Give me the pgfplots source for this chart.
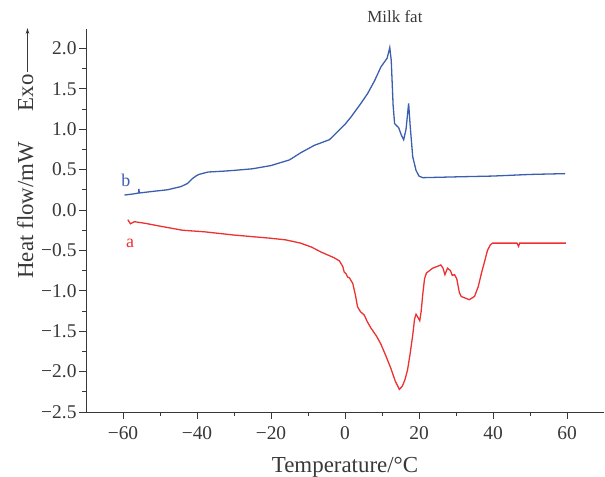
\documentclass[border=0pt]{standalone}
\usepackage{fontspec}
\setmainfont{Liberation Serif}
\usepackage{pgfplots}
\pgfplotsset{compat=1.18}
\usetikzlibrary{arrows.meta}
\definecolor{cb}{rgb}{0.23,0.37,0.68}
\definecolor{cr}{rgb}{0.93,0.19,0.19}
\definecolor{ax}{rgb}{0.22,0.22,0.22}
\begin{document}
\begin{tikzpicture}
\useasboundingbox (0,0) rectangle (605bp,477bp);
\begin{axis}[at={(86bp,65bp)}, anchor=south west, scale only axis,
  width=518bp, height=383bp,
  xmin=-70, xmax=70, ymin=-2.5, ymax=2.24,
  axis x line*=bottom, axis y line*=left,
  axis line style={ax, line width=0.8pt},
  tick style={ax, line width=0.8pt},
  tick align=outside,
  major tick length=7bp, minor tick length=4bp,
  xtick={-60,-40,-20,0,20,40,60},
  xticklabels={−60,−40,−20,0,20,40,60},
  ytick={-2.5,-2,-1.5,-1,-0.5,0,0.5,1,1.5,2},
  yticklabels={−2.5,−2.0,−1.5,−1.0,−0.5,0.0,0.5,1.0,1.5,2.0},
  minor x tick num=1, minor y tick num=1,
  ticklabel style={font=\fontsize{19.5}{19.5}\selectfont, text=ax},
  xticklabel style={yshift=-4bp},
  yticklabel style={xshift=1bp},
  xlabel={Temperature/°C},
  xlabel style={font=\fontsize{23}{23}\selectfont, text=ax, at={(axis description cs:0.5,0)}, anchor=base, yshift=-60bp},
  ylabel={Heat flow/mW},
  ylabel style={font=\fontsize{23}{23}\selectfont, text=ax, at={(axis description cs:-0.1023,0.527)}, anchor=base},
  clip=false,
]
\addplot[cb, line width=1.3pt] coordinates {
(-59.6,0.185) (-57,0.20) (-55.8,0.21) (-55.7,0.26) (-55.6,0.21) (-52,0.23) (-48,0.25)
(-44.3,0.29) (-42.5,0.33) (-41.2,0.39) (-40.3,0.42) (-39.5,0.44) (-37,0.47)
(-33,0.48) (-30,0.49) (-25,0.51) (-20,0.55) (-15,0.62) (-11.9,0.71)
(-8.3,0.80) (-4.2,0.87) (-2,0.97) (0,1.06) (1.6,1.15) (4,1.30) (6.1,1.44)
(8,1.60) (9.7,1.77) (11.4,1.88) (12.1,2.01) (12.5,1.85) (13,1.3) (13.4,1.07)
(14.0,1.04) (14.5,1.02) (15.2,0.93) (15.86,0.87) (16.5,1.0) (17.2,1.32)
(17.6,1.05) (18.3,0.66) (19.2,0.49) (20,0.42) (21,0.40) (30,0.41) (40,0.42)
(50,0.44) (59.5,0.45)
};
\addplot[cr, line width=1.3pt] coordinates {
(-58.7,-0.12) (-58.0,-0.17) (-56.9,-0.145) (-54,-0.165) (-50,-0.2) (-44,-0.25)
(-38,-0.27) (-34,-0.29) (-30,-0.31) (-25,-0.33) (-20,-0.35) (-16,-0.37)
(-12,-0.41) (-9,-0.46) (-6.5,-0.52) (-3,-0.59) (-1.5,-0.63) (-0.6,-0.70)
(-0.2,-0.77) (0.3,-0.79) (0.7,-0.83) (1.2,-0.84) (2.1,-0.91) (2.8,-1.05)
(3.4,-1.2) (4.2,-1.26) (5.2,-1.30) (6.0,-1.38) (7.0,-1.46) (8.5,-1.56)
(9.7,-1.66) (11,-1.80) (12.4,-1.96) (13.6,-2.12) (14.7,-2.22) (15.5,-2.18)
(16.2,-2.10) (16.9,-1.98) (17.6,-1.78) (18.3,-1.55) (18.8,-1.35) (19.2,-1.29)
(19.6,-1.32) (20.2,-1.37) (20.6,-1.25) (21.0,-1.05) (21.5,-0.85) (22.0,-0.78)
(23.7,-0.72) (25.4,-0.69) (25.9,-0.68) (26.5,-0.72) (27.0,-0.80) (27.7,-0.72)
(28.5,-0.75) (29.0,-0.81) (29.6,-0.80) (30.2,-0.85) (30.9,-1.02) (31.4,-1.07)
(33.6,-1.11) (35.0,-1.07) (36.0,-0.95) (37.0,-0.76) (37.6,-0.66) (38.5,-0.50)
(39.3,-0.43) (39.9,-0.41) (46.5,-0.41) (46.9,-0.45) (47.2,-0.41) (59.7,-0.41)
};
\node[cb, font=\fontsize{18}{18}\selectfont] at (axis cs:-59.2,0.37) {b};
\node[cr, font=\fontsize{18}{18}\selectfont] at (axis cs:-58.1,-0.41) {a};
\node[ax, font=\fontsize{17}{17}\selectfont] at (axis cs:13.5,2.39) {Milk fat};
\end{axis}
\node[ax, rotate=90, anchor=base, font=\fontsize{23}{23}\selectfont] at (33bp,384bp) {Exo};
\draw[ax, line width=0.8pt, -{Stealth[length=6bp,width=3.5bp]}] (27.5bp,405bp) -- (27.5bp,449bp);
\end{tikzpicture}
\end{document}
